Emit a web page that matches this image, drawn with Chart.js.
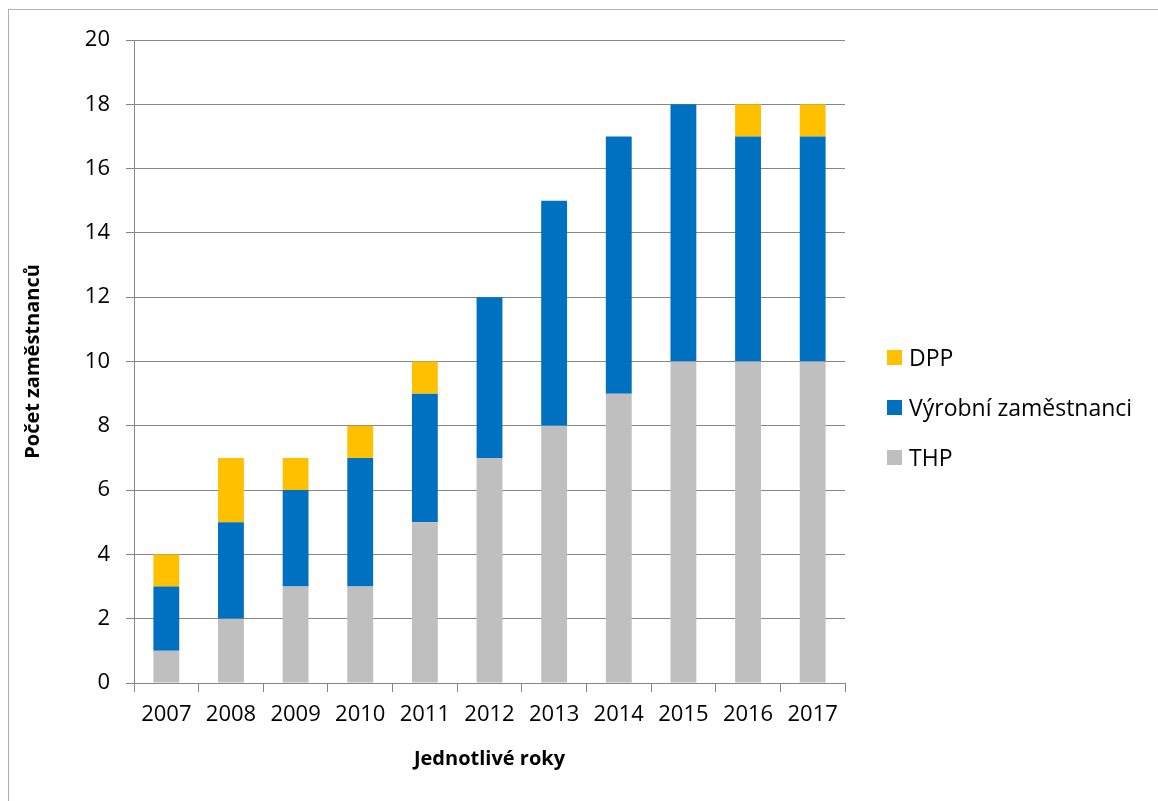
<!DOCTYPE html>
<html>
<head>
<meta charset="utf-8">
<script src="https://cdn.jsdelivr.net/npm/chart.js@4"></script>
<style>
  html, body { margin: 0; padding: 0; background: #fff; overflow: hidden; }
  #wrap { position: relative; width: 1158px; height: 801px; }
  #frame { position: absolute; left: 8px; top: 9px; width: 1300px; height: 1000px;
           border-top: 1px solid #b0b0b0; border-left: 1px solid #b0b0b0; }
  #myChart { position: absolute; left: 0; top: 0; }
  #legend { position: absolute; left: 887px; top: 332px; font-family: "Open Sans", sans-serif;
            font-size: 23px; color: #000; }
  #legend div { height: 50px; display: flex; align-items: center; }
  #legend span.box { display: inline-block; width: 15px; height: 15px; margin-right: 7px; }
</style>
</head>
<body>
<div id="wrap">
  <div id="frame"></div>
  <canvas id="myChart" width="1158" height="801"></canvas>
  <div id="legend"></div>
</div>
<script>
var years = ['2007', '2008', '2009', '2010', '2011', '2012', '2013', '2014', '2015', '2016', '2017'];
var thp = [1, 2, 3, 3, 5, 7, 8, 9, 10, 10, 10];
var vyrobni = [2, 3, 3, 4, 4, 5, 7, 8, 8, 7, 7];
var dpp = [1, 2, 1, 1, 1, 0, 0, 0, 0, 1, 1];

var fontFamily = '"Open Sans", sans-serif';

document.addEventListener('DOMContentLoaded', function () {
    var ctx = document.getElementById('myChart').getContext('2d');
    var myChart = new Chart(ctx, {
        type: 'bar',
        data: {
            labels: years,
            datasets: [{
                label: 'THP',
                data: thp,
                backgroundColor: '#bfbfbf'
            }, {
                label: 'Výrobní zaměstnanci',
                data: vyrobni,
                backgroundColor: '#0070c0'
            }, {
                label: 'DPP',
                data: dpp,
                backgroundColor: '#ffc000'
            }]
        },
        options: {
            responsive: false,
            animation: false,
            layout: {
                padding: { top: 40, right: 313, left: 21, bottom: 30 }
            },
            datasets: {
                bar: { categoryPercentage: 1, barPercentage: 0.4 }
            },
            scales: {
                x: {
                    stacked: true,
                    grid: { drawOnChartArea: false, color: '#868686', tickLength: 9, offset: true },
                    border: { color: '#868686' },
                    ticks: { color: '#000', font: { family: fontFamily, size: 22 }, padding: 10 },
                    title: {
                        display: true, text: 'Jednotlivé roky', color: '#000',
                        font: { family: fontFamily, size: 20, weight: 'bold' },
                        padding: { top: 12, bottom: 0 }
                    },
                    afterFit: function (scale) { scale.height = 88; }
                },
                y: {
                    stacked: true,
                    min: 0,
                    max: 20,
                    ticks: { stepSize: 2, color: '#000', font: { family: fontFamily, size: 22 }, padding: 16 },
                    grid: { color: '#868686', tickLength: 8 },
                    border: { color: '#868686' },
                    title: {
                        display: true, text: 'Počet zaměstnanců', color: '#000',
                        font: { family: fontFamily, size: 20, weight: 'bold' },
                        padding: { top: 0, bottom: 10 }
                    },
                    afterFit: function (scale) { scale.width = 113; }
                }
            },
            plugins: {
                legend: { display: false },
                tooltip: { enabled: false }
            }
        }
    });

    // legend, top to bottom: DPP, Výrobní zaměstnanci, THP
    var legend = document.getElementById('legend');
    myChart.data.datasets.slice().reverse().forEach(function (ds) {
        var row = document.createElement('div');
        var box = document.createElement('span');
        box.className = 'box';
        box.style.background = ds.backgroundColor;
        row.appendChild(box);
        row.appendChild(document.createTextNode(ds.label));
        legend.appendChild(row);
    });
});
</script>
</body>
</html>
